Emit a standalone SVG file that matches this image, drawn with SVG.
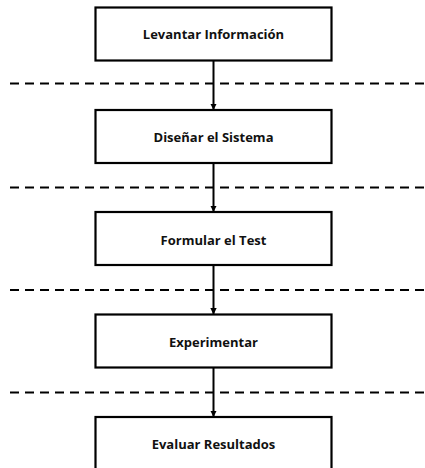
<svg xmlns="http://www.w3.org/2000/svg" width="425" height="468" viewBox="0 0 425 468">
  <style>
    .box { fill: #ffffff; stroke: #000000; stroke-width: 2.2; }
    .lbl { font-family: "Open Sans", "Liberation Sans", sans-serif; font-weight: 700; font-size: 13px; fill: #111111; text-anchor: middle; dominant-baseline: central; }
    .sep { stroke: #000000; stroke-width: 2; stroke-dasharray: 9 6; fill: none; }
    .arrow { stroke: #000000; stroke-width: 2; fill: none; marker-end: url(#ah); }
  </style>
  <defs>
    <marker id="ah" viewBox="0 0 8 8" refX="8" refY="4" markerWidth="3.2" markerHeight="3.2" orient="auto" markerUnits="strokeWidth">
      <path d="M0,0 L8,4 L0,8 Z" fill="#000000"/>
    </marker>
  </defs>
  <rect width="425" height="468" fill="#ffffff"/>
  <g id="separators">
    <line class="sep" x1="10" y1="83.5" x2="425" y2="83.5"/>
    <line class="sep" x1="10" y1="187.5" x2="425" y2="187.5"/>
    <line class="sep" x1="10" y1="290" x2="425" y2="290"/>
    <line class="sep" x1="10" y1="392.5" x2="425" y2="392.5"/>
  </g>
  <g id="connectors">
    <line class="arrow" x1="213.5" y1="60" x2="213.5" y2="110"/>
    <line class="arrow" x1="213.5" y1="162.5" x2="213.5" y2="212"/>
    <line class="arrow" x1="213.5" y1="265" x2="213.5" y2="314.5"/>
    <line class="arrow" x1="213.5" y1="367.5" x2="213.5" y2="417"/>
  </g>
  <g id="node1">
    <rect class="box" x="95.5" y="7.5" width="236" height="53"/>
    <text class="lbl" x="213.5" y="34">Levantar Información</text>
  </g>
  <g id="node2">
    <rect class="box" x="95.5" y="110" width="236" height="53"/>
    <text class="lbl" x="213.5" y="137">Diseñar el Sistema</text>
  </g>
  <g id="node3">
    <rect class="box" x="95.5" y="212" width="236" height="53"/>
    <text class="lbl" x="213.5" y="239.5">Formular el Test</text>
  </g>
  <g id="node4">
    <rect class="box" x="95.5" y="314.5" width="236" height="53"/>
    <text class="lbl" x="213.5" y="342">Experimentar</text>
  </g>
  <g id="node5">
    <rect class="box" x="95.5" y="417" width="236" height="53"/>
    <text class="lbl" x="213.5" y="444">Evaluar Resultados</text>
  </g>
</svg>
